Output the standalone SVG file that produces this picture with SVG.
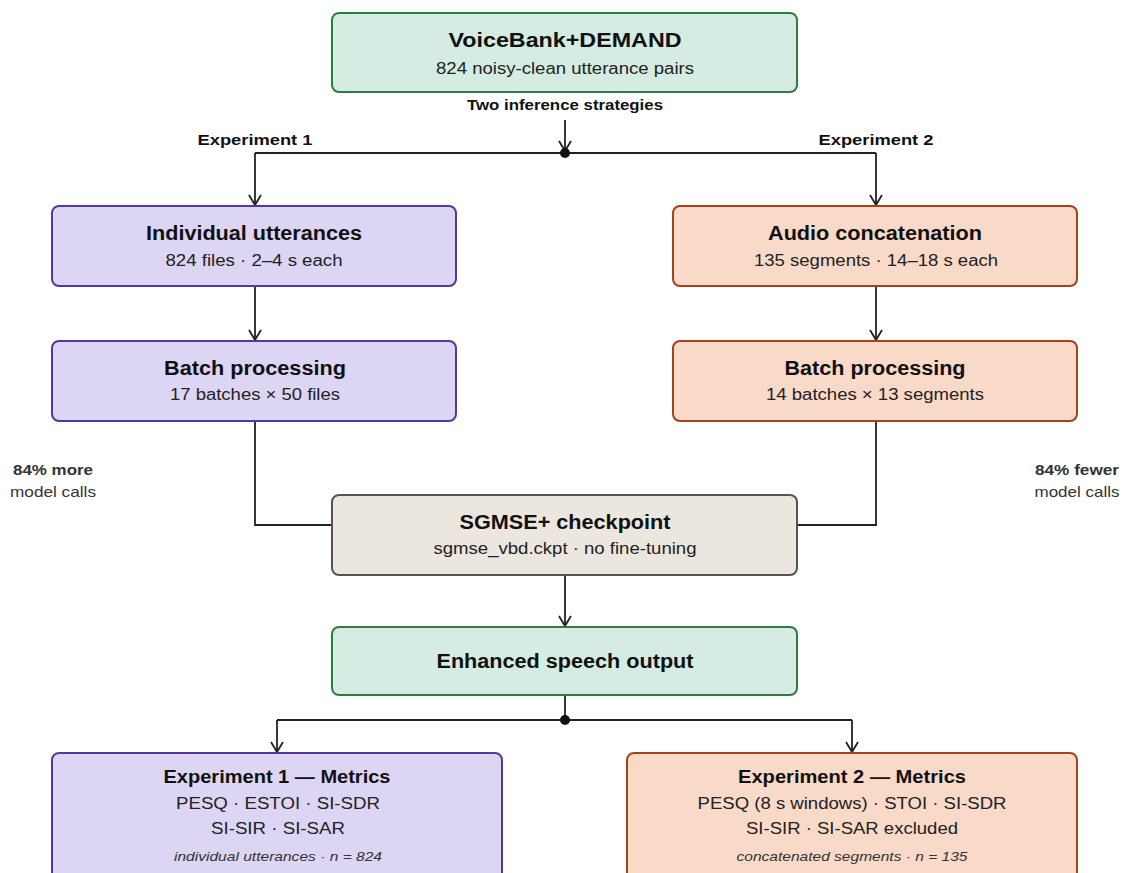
<svg xmlns="http://www.w3.org/2000/svg" width="1124" height="873" viewBox="0 0 1124 873">
<style>
text{font-family:"Liberation Sans",Arial,sans-serif;fill:#111;text-anchor:middle}
.t{font-size:20px;font-weight:bold}
.t0{font-size:21px;font-weight:bold}
.t2{font-size:18px;font-weight:bold}
.s{font-size:16px;fill:#222}
.i{font-size:13.5px;font-style:italic;fill:#333}
.l{font-size:15px;font-weight:bold}
.side{font-size:15px;fill:#333}
.green{fill:#d4ece1;stroke:#2f7a45;stroke-width:2}
.purple{fill:#ddd5f4;stroke:#56389a;stroke-width:2}
.orange{fill:#f9d9c8;stroke:#a3421c;stroke-width:2}
.grey{fill:#ebe7df;stroke:#555550;stroke-width:2}
.c{fill:none;stroke:#222;stroke-width:1.8}
</style>
<defs>
<marker id="arr" viewBox="0 0 14 12" refX="7" refY="11" markerWidth="14" markerHeight="12" markerUnits="userSpaceOnUse" orient="0">
<path d="M1,1 L7,11 L13,1" fill="none" stroke="#222" stroke-width="1.8"/>
</marker>
</defs>
<g id="connectors">
<line class="c" x1="565" y1="120" x2="565" y2="151" marker-end="url(#arr)"/>
<line class="c" x1="255" y1="153" x2="876" y2="153"/>
<circle cx="565" cy="153" r="5" fill="#111"/>
<polyline class="c" points="255,153 255,205" marker-end="url(#arr)"/>
<polyline class="c" points="876,153 876,205" marker-end="url(#arr)"/>
<line class="c" x1="255" y1="287" x2="255" y2="340" marker-end="url(#arr)"/>
<line class="c" x1="876" y1="287" x2="876" y2="340" marker-end="url(#arr)"/>
<polyline class="c" points="255,422 255,525 332,525"/>
<polyline class="c" points="876,422 876,525 797,525"/>
<line class="c" x1="565" y1="576" x2="565" y2="626" marker-end="url(#arr)"/>
<line class="c" x1="565" y1="696" x2="565" y2="720"/>
<line class="c" x1="277" y1="720" x2="852" y2="720"/>
<circle cx="565" cy="720" r="5" fill="#111"/>
<polyline class="c" points="277,720 277,752" marker-end="url(#arr)"/>
<polyline class="c" points="852,720 852,752" marker-end="url(#arr)"/>
<text class="l" x="565" y="110" textLength="196" lengthAdjust="spacingAndGlyphs">Two inference strategies</text>
<text class="l" x="255" y="145" textLength="115" lengthAdjust="spacingAndGlyphs">Experiment 1</text>
<text class="l" x="876" y="145" textLength="115" lengthAdjust="spacingAndGlyphs">Experiment 2</text>
</g>
<g id="side-left">
<text class="l" x="53" y="475" style="fill:#333" textLength="80" lengthAdjust="spacingAndGlyphs">84% more</text>
<text class="side" x="53" y="497" textLength="86" lengthAdjust="spacingAndGlyphs">model calls</text>
</g>
<g id="side-right">
<text class="l" x="1077" y="475" style="fill:#333" textLength="84" lengthAdjust="spacingAndGlyphs">84% fewer</text>
<text class="side" x="1077" y="497" textLength="85" lengthAdjust="spacingAndGlyphs">model calls</text>
</g>
<g id="voicebank">
<rect class="green" x="332" y="13" width="465" height="79" rx="7"/>
<text class="t0" x="565" y="47" textLength="233" lengthAdjust="spacingAndGlyphs">VoiceBank+DEMAND</text>
<text class="s" x="565" y="74" textLength="258" lengthAdjust="spacingAndGlyphs">824 noisy-clean utterance pairs</text>
</g>
<g id="individual">
<rect class="purple" x="52" y="206" width="404" height="80" rx="7"/>
<text class="t" x="254" y="240" textLength="216" lengthAdjust="spacingAndGlyphs">Individual utterances</text>
<text class="s" x="254" y="266" textLength="177" lengthAdjust="spacingAndGlyphs">824 files · 2–4 s each</text>
</g>
<g id="batch1">
<rect class="purple" x="52" y="341" width="404" height="80" rx="7"/>
<text class="t" x="255" y="375" textLength="182" lengthAdjust="spacingAndGlyphs">Batch processing</text>
<text class="s" x="255" y="400" textLength="170" lengthAdjust="spacingAndGlyphs">17 batches × 50 files</text>
</g>
<g id="concat">
<rect class="orange" x="673" y="206" width="404" height="80" rx="7"/>
<text class="t" x="875" y="240" textLength="214" lengthAdjust="spacingAndGlyphs">Audio concatenation</text>
<text class="s" x="876" y="266" textLength="244" lengthAdjust="spacingAndGlyphs">135 segments · 14–18 s each</text>
</g>
<g id="batch2">
<rect class="orange" x="673" y="341" width="404" height="80" rx="7"/>
<text class="t" x="875" y="375" textLength="181" lengthAdjust="spacingAndGlyphs">Batch processing</text>
<text class="s" x="875" y="400" textLength="218" lengthAdjust="spacingAndGlyphs">14 batches × 13 segments</text>
</g>
<g id="sgmse">
<rect class="grey" x="332" y="495" width="465" height="80" rx="7"/>
<text class="t" x="565" y="529" textLength="211" lengthAdjust="spacingAndGlyphs">SGMSE+ checkpoint</text>
<text class="s" x="565" y="554" textLength="263" lengthAdjust="spacingAndGlyphs">sgmse_vbd.ckpt · no fine-tuning</text>
</g>
<g id="enhanced">
<rect class="green" x="332" y="627" width="465" height="68" rx="7"/>
<text class="t" x="565" y="668" textLength="257" lengthAdjust="spacingAndGlyphs">Enhanced speech output</text>
</g>
<g id="metrics1">
<rect class="purple" x="52" y="753" width="450" height="140" rx="7"/>
<text class="t2" x="277" y="783" textLength="227" lengthAdjust="spacingAndGlyphs">Experiment 1 — Metrics</text>
<text class="s" x="278" y="809" textLength="204" lengthAdjust="spacingAndGlyphs">PESQ · ESTOI · SI-SDR</text>
<text class="s" x="278" y="834" textLength="134" lengthAdjust="spacingAndGlyphs">SI-SIR · SI-SAR</text>
<text class="i" x="278" y="861" textLength="208" lengthAdjust="spacingAndGlyphs">individual utterances · n = 824</text>
</g>
<g id="metrics2">
<rect class="orange" x="627" y="753" width="450" height="140" rx="7"/>
<text class="t2" x="852" y="783" textLength="228" lengthAdjust="spacingAndGlyphs">Experiment 2 — Metrics</text>
<text class="s" x="852" y="809" textLength="309" lengthAdjust="spacingAndGlyphs">PESQ (8 s windows) · STOI · SI-SDR</text>
<text class="s" x="852" y="834" textLength="212" lengthAdjust="spacingAndGlyphs">SI-SIR · SI-SAR excluded</text>
<text class="i" x="852" y="861" textLength="231" lengthAdjust="spacingAndGlyphs">concatenated segments · n = 135</text>
</g>
</svg>
